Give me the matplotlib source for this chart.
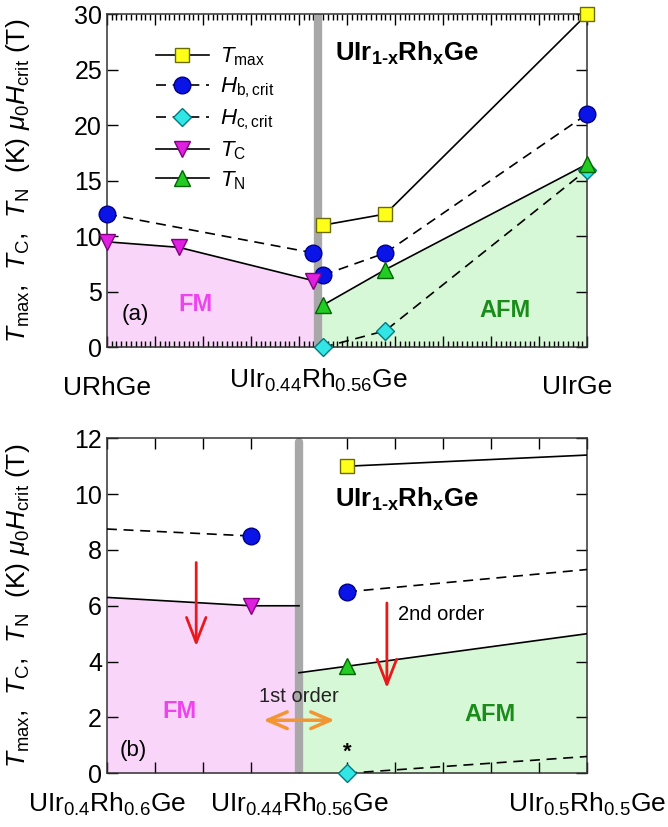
import matplotlib.pyplot as plt
from matplotlib.ticker import MultipleLocator
from matplotlib.lines import Line2D

plt.rcParams['font.family'] = ['Liberation Sans', 'DejaVu Sans']
plt.rcParams['mathtext.fontset'] = 'custom'
plt.rcParams['mathtext.rm'] = 'Liberation Sans'
plt.rcParams['mathtext.it'] = 'Liberation Sans:italic'
plt.rcParams['mathtext.bf'] = 'Liberation Sans:bold'

# x axis = Ir content (1-x) of UIr(1-x)Rh(x)Ge
X_BOUND = 0.44

# ---- panel (a): full range URhGe -> UIrGe
a_tmax_x = [0.45, 0.58, 1.0]
a_tmax_y = [11.0, 12.0, 30.0]
a_hb_fm_x = [0.0, 0.43]
a_hb_fm_y = [12.0, 8.5]
a_hb_afm_x = [0.45, 0.58, 1.0]
a_hb_afm_y = [6.5, 8.5, 21.0]
a_hc_x = [0.45, 0.58, 1.0]
a_hc_y = [0.0, 1.5, 16.0]
a_tc_x = [0.0, 0.15, 0.43]
a_tc_y = [9.5, 9.0, 6.0]
a_tn_x = [0.45, 0.58, 1.0]
a_tn_y = [3.8, 7.0, 16.5]
a_tick_pos = [0.0, 0.44, 0.98]
a_tick_lab = ['URhGe', r'UIr$_{0.44}$Rh$_{0.56}$Ge', 'UIrGe']

# ---- panel (b): zoom 0.40 -> 0.50
b_tmax_pt = (0.45, 11.0)
b_tmax_line_x = [0.45, 0.50]
b_tmax_line_y = [11.0, 11.4]
b_hb_fm_pt = (0.43, 8.5)
b_hb_fm_line_x = [0.40, 0.43]
b_hb_fm_line_y = [8.75, 8.5]
b_hb_afm_pt = (0.45, 6.5)
b_hb_afm_line_x = [0.45, 0.50]
b_hb_afm_line_y = [6.5, 7.3]
b_hc_pt = (0.45, 0.0)
b_hc_line_x = [0.45, 0.50]
b_hc_line_y = [0.0, 0.6]
b_tc_pt = (0.43, 6.0)
b_tc_line_x = [0.40, 0.43, 0.44]
b_tc_line_y = [6.3, 6.0, 6.0]
b_tn_pt = (0.45, 3.85)
b_tn_line_x = [0.44, 0.50]
b_tn_line_y = [3.6, 5.0]
b_tick_pos = [0.40, 0.44, 0.50]
b_tick_lab = [r'UIr$_{0.4}$Rh$_{0.6}$Ge', r'UIr$_{0.44}$Rh$_{0.56}$Ge',
              r'UIr$_{0.5}$Rh$_{0.5}$Ge']

FM_FILL = '#fad5fa'
AFM_FILL = '#d7f8d7'
DASH = (0, (6, 4))
STY = {
    'tmax': dict(marker='s', mfc='#ffff1a', mec='#6b6b00', ms=10, ls='-'),
    'hb':   dict(marker='o', mfc='#0a14e6', mec='#00008b', ms=12, ls=DASH),
    'hc':   dict(marker='D', mfc='#33e6e6', mec='#007a80', ms=9, ls=DASH),
    'tc':   dict(marker='v', mfc='#e020e0', mec='#800080', ms=11, ls='-'),
    'tn':   dict(marker='^', mfc='#22cc22', mec='#006400', ms=11, ls='-'),
}
YLABEL = r'$T_{\rm max}$,  $T_{\rm C}$,  $T_{\rm N}$  (K) $\mu_0H_{\rm crit}$ (T)'
TITLE = 'UIr$_{\\mathbf{1\u2010x}}$Rh$_{\\mathbf{x}}$Ge'


def style_axes(ax, xmaj, xmin, ymaj):
    ax.xaxis.set_major_locator(MultipleLocator(xmaj))
    if xmin:
        ax.xaxis.set_minor_locator(MultipleLocator(xmin))
    ax.yaxis.set_major_locator(MultipleLocator(ymaj))
    ax.tick_params(which='both', direction='in', top=True, right=True,
                   labelsize=18, width=1)
    ax.tick_params(which='major', length=8)
    ax.tick_params(which='minor', length=4, left=False, right=False)
    ax.tick_params(axis='x', labelbottom=False)
    for s in ax.spines.values():
        s.set_linewidth(1.1)
        s.set_color('#333333')
    ax.set_ylabel(YLABEL, fontsize=19)
    ax.yaxis.set_label_coords(-0.155, 0.5)


def draw(ax, x, y, key, pts=True, **kw):
    st = dict(STY[key])
    ls = st.pop('ls')
    ax.plot(x, y, color='k', lw=1.2, ls=ls, zorder=4, **kw)
    if pts:
        ax.plot(x, y, ls='none', mew=1, zorder=5, clip_on=False, **st)


fig = plt.figure(figsize=(6.68, 8.27), dpi=100)
ax1 = fig.add_axes([0.160, 0.580, 0.719, 0.403])
ax2 = fig.add_axes([0.160, 0.065, 0.719, 0.405])

# ---------------- panel (a)
ax1.set_xlim(0, 1)
ax1.set_ylim(0, 30)
ax1.fill_between(a_tc_x + [X_BOUND], a_tc_y + [a_tc_y[-1]], 0,
                 color=FM_FILL, lw=0, zorder=1)
ax1.fill_between([X_BOUND] + a_tn_x, [a_tn_y[0]] + a_tn_y, 0,
                 color=AFM_FILL, lw=0, zorder=1)
ax1.axvline(X_BOUND, color='#a8a8a8', lw=6, zorder=2)
draw(ax1, a_tmax_x, a_tmax_y, 'tmax')
draw(ax1, a_hb_fm_x, a_hb_fm_y, 'hb')
draw(ax1, a_hb_afm_x, a_hb_afm_y, 'hb')
draw(ax1, a_hc_x, a_hc_y, 'hc')
draw(ax1, a_tc_x, a_tc_y, 'tc')
draw(ax1, a_tn_x, a_tn_y, 'tn')
style_axes(ax1, 0.1, 0.01, 5)
for p, lab, yb in zip(a_tick_pos, a_tick_lab, [-0.144, -0.12, -0.14]):
    ax1.text(p, yb, lab, transform=ax1.get_xaxis_transform(),
             ha='center', va='baseline', fontsize=19)

handles = []
labels = [r'$T_{\rm max}$', r'$H_{\rm b,crit}$', r'$H_{\rm c,crit}$',
          r'$T_{\rm C}$', r'$T_{\rm N}$']
for key in ['tmax', 'hb', 'hc', 'tc', 'tn']:
    st = dict(STY[key])
    ls = st.pop('ls')
    handles.append(Line2D([], [], color='k', lw=1.2, ls=ls, mew=1, **st))
ax1.legend(handles, labels, loc='upper left', bbox_to_anchor=(0.06, 0.965),
           frameon=False, fontsize=16, handlelength=2.4, handletextpad=0.5,
           labelspacing=0.33)

ax1.text(0.475, 26.5, TITLE, fontsize=18.5, fontweight='bold', va='center')
ax1.text(0.06, 3.0, '(a)', fontsize=16, ha='center', va='center')
ax1.text(0.185, 3.9, 'FM', fontsize=17, fontweight='bold', color='#ee44ee',
         ha='center', va='center')
ax1.text(0.83, 3.3, 'AFM', fontsize=17, fontweight='bold', color='#1a8c1a',
         ha='center', va='center')

# ---------------- panel (b)
ax2.set_xlim(0.40, 0.50)
ax2.set_ylim(0, 12)
ax2.fill_between(b_tc_line_x, b_tc_line_y, 0, color=FM_FILL, lw=0, zorder=1)
ax2.fill_between(b_tn_line_x, b_tn_line_y, 0, color=AFM_FILL, lw=0, zorder=1)
ax2.plot([X_BOUND, X_BOUND], [0, 11.85], color='#a8a8a8', lw=6, zorder=2,
         solid_capstyle='round')
for key, lx, ly, pt in [
        ('tmax', b_tmax_line_x, b_tmax_line_y, b_tmax_pt),
        ('hb', b_hb_fm_line_x, b_hb_fm_line_y, b_hb_fm_pt),
        ('hb', b_hb_afm_line_x, b_hb_afm_line_y, b_hb_afm_pt),
        ('hc', b_hc_line_x, b_hc_line_y, b_hc_pt),
        ('tc', b_tc_line_x, b_tc_line_y, b_tc_pt),
        ('tn', b_tn_line_x, b_tn_line_y, b_tn_pt)]:
    draw(ax2, lx, ly, key, pts=False)
    draw(ax2, [pt[0]], [pt[1]], key)
style_axes(ax2, 0.01, None, 2)
ax2.set_xlim(0.40, 0.50)
for p, lab in zip(b_tick_pos, b_tick_lab):
    ax2.text(p, -0.115, lab, transform=ax2.get_xaxis_transform(),
             ha='center', va='baseline', fontsize=19)

ax2.text(0.4475, 9.8, TITLE, fontsize=18.5, fontweight='bold', va='center')
ax2.text(0.4055, 0.8, '(b)', fontsize=16, ha='center', va='center')
ax2.text(0.4152, 2.2, 'FM', fontsize=17, fontweight='bold', color='#ee44ee',
         ha='center', va='center')
ax2.text(0.4797, 2.1, 'AFM', fontsize=17, fontweight='bold', color='#1a8c1a',
         ha='center', va='center')
ax2.text(0.45, 0.75, '*', fontsize=16, fontweight='bold', ha='center',
         va='center')
ax2.text(0.4606, 5.7, '2nd order', fontsize=14.5, va='center')
ax2.text(0.44, 2.75, '1st order', fontsize=14.5, ha='center', va='center',
         color='#222222', zorder=6)

red = dict(arrowstyle='->,head_length=0.9,head_width=0.35', color='#e8191d',
           lw=2, mutation_scale=20)
ax2.annotate('', xy=(0.4186, 4.45), xytext=(0.4186, 7.65), arrowprops=red,
             zorder=6)
ax2.annotate('', xy=(0.4583, 2.95), xytext=(0.4583, 6.2), arrowprops=red,
             zorder=6)
ax2.annotate('', xy=(0.4480, 1.9), xytext=(0.4320, 1.9), zorder=6,
             arrowprops=dict(arrowstyle='<->,head_length=0.7,head_width=0.3',
                             color='#f39530', lw=2.5, mutation_scale=20))

fig.savefig('out.png', dpi=100)
